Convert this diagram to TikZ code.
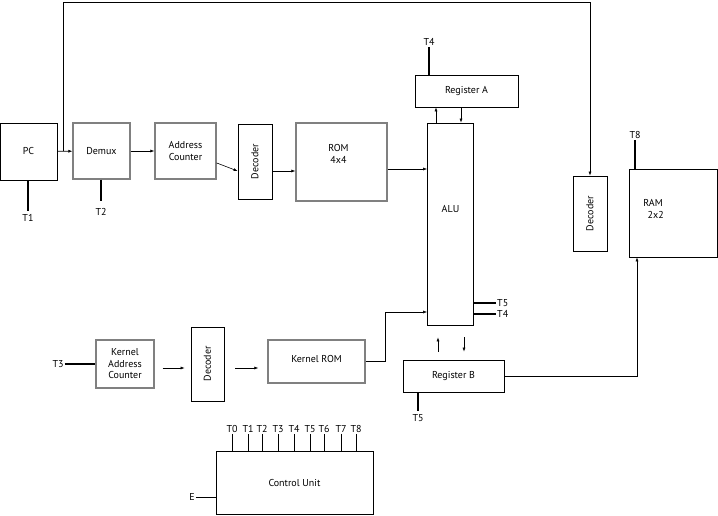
\documentclass[tikz,border=0pt]{standalone}
\usepackage{fontspec}
\setmainfont{PT Sans}
\usetikzlibrary{arrows.meta}
\definecolor{boxgray}{gray}{0.5}

\begin{document}
\begin{tikzpicture}[x=1pt,y=-1pt,font=\fontsize{10}{11.5}\selectfont,
    blk/.style={draw,line width=0.8pt,inner sep=0pt,align=center},
    gblk/.style={blk,draw=boxgray,line width=1.2pt},
    arr/.style={-{Latex[length=4pt,width=3pt]},line width=0.6pt},
    tline/.style={line width=1.4pt},
    tlab/.style={inner sep=1pt}]
\useasboundingbox (0,0) rectangle (718,516);

\node [blk,minimum width=57,minimum height=57]   (pc)      at ( 28.5,151.5) {PC};
\node [gblk,minimum width=57,minimum height=56]  (demux)   at (101.5,151)   {Demux};
\node [gblk,minimum width=61,minimum height=56]  (addrcnt) at (185.5,151)   {Address\\ Counter};
\node [blk,minimum width=34,minimum height=75]   (dec1)    at (255,161.5)   {\rotatebox{90}{Decoder}};
\node [gblk,minimum width=91,minimum height=78,
       label={[align=center,yshift=8pt,xshift=-3pt]center:ROM\\ 4x4}]
                                                 (rom)     at (341.5,162)   {};
\node [blk,minimum width=46,minimum height=202,
       label={[yshift=15pt]center:ALU}]          (alu)     at (450.5,224)   {};
\node [blk,minimum width=103,minimum height=32]  (rega)    at (466.5,91)    {Register A};
\node [blk,minimum width=101,minimum height=32]  (regb)    at (453.5,376)   {Register B};
\node [blk,minimum width=34,minimum height=75]   (dec2)    at (590,213.5)   {\rotatebox{90}{Decoder}};
\node [blk,minimum width=88,minimum height=88,
       label={[align=center,xshift=-20pt,yshift=4pt]center:RAM\\ \ \ 2x2}]
                                                 (ram)     at (673,213)     {};
\node [gblk,minimum width=58,minimum height=48]  (kcnt)    at (125,364)     {Kernel\\ Address\\ Counter};
\node [blk,minimum width=33,minimum height=74]   (dec3)    at (207.5,364)   {\rotatebox{90}{Decoder}};
\node [gblk,minimum width=97,minimum height=43,
       label={[yshift=3pt]center:Kernel ROM}]    (krom)    at (316.5,361.5) {};
\node [blk,minimum width=157,minimum height=63]  (cu)      at (294.5,482.5) {Control Unit};

% signal labels
\node [tlab] (t1)  at ( 28,218) {T1};
\node [tlab] (t2)  at (101,212) {T2};
\node [tlab] (t3)  at ( 58,364) {T3};
\node [tlab] (t4a) at (429,42)  {T4};
\node [tlab,anchor=west] (t5a) at (496,303) {T5};
\node [tlab,anchor=west] (t4b) at (496,314) {T4};
\node [tlab] (t5b) at (418,418) {T5};
\node [tlab] (t8)  at (635,135) {T8};
\node [tlab] (e)   at (192,497) {E};

% main data path
\coordinate (tap)  at (63,151.5);
\coordinate (ctop) at (63,2);
\draw [arr] (pc) -- (demux);
\draw [line width=0.6pt] (tap) -- (ctop);
\draw [arr] (ctop) -| (dec2.north);
\draw [arr] (demux) -- (addrcnt);
\draw [arr] (addrcnt) -- ([yshift=-9.5pt]dec1.west);
\draw [arr] ([yshift=-9.5pt]dec1.east) -- ([yshift=-9.5pt]dec1.east -| rom.west);
\draw [arr] ([yshift=-7pt]rom.east) -- ([yshift=-7pt]rom.east -| alu.west);
\draw [arr] ([xshift=-14.5pt]alu.north) -- ([xshift=-14.5pt]alu.north |- rega.south);
\draw [arr] ([xshift=10.5pt]alu.north |- rega.south) -- ([xshift=10.5pt]alu.north);
\draw [arr,shorten <=8pt,shorten >=12pt]
    ([xshift=-12.5pt]alu.south |- regb.north) -- ([xshift=-12.5pt]alu.south);
\draw [arr,shorten <=12pt,shorten >=8pt]
    ([xshift=13.5pt]alu.south) -- ([xshift=13.5pt]alu.south |- regb.north);
\draw [arr] (regb.east) -| ([xshift=-36pt]ram.south);

% kernel path
\draw [arr,shorten <=8pt,shorten >=6pt] ([yshift=-4pt]kcnt.east) -- ([yshift=-4pt]kcnt.east -| dec3.west);
\draw [arr,shorten <=11pt,shorten >=9pt] ([yshift=-4pt]dec3.east) -- ([yshift=-4pt]dec3.east -| krom.west);
\draw [arr] (krom.east) -- ++(20,0) |- ([yshift=-88pt]alu.west);

% timing lines
\draw [tline] (pc.south -| t1) -- ([yshift=2pt]t1.north);
\draw [tline] (demux.south -| t2) -- ([yshift=6pt]t2.north);
\draw [tline] (t3.east) -- (t3.east -| kcnt.west);
\draw [tline] (t4a.south) -- (t4a.south |- rega.north);
\draw [tline] (alu.east |- t5a) -- (t5a.west);
\draw [tline] (alu.east |- t4b) -- (t4b.west);
\draw [tline] (regb.south -| t5b) -- ([yshift=2pt]t5b.north);
\draw [tline] (t8.south) -- (t8.south |- ram.north);
\draw [line width=0.8pt] (e.east) -- (e.east -| cu.west);
\foreach \x/\n in {232/0,248/1,262/2,278/3,294/4,310/5,324/6,341/7,356/8} {
  \node [tlab] (cut\n) at (\x,429) {T\n};
  \draw [line width=0.8pt] (cut\n.south) -- (cut\n.south |- cu.north);
}
\end{tikzpicture}
\end{document}
